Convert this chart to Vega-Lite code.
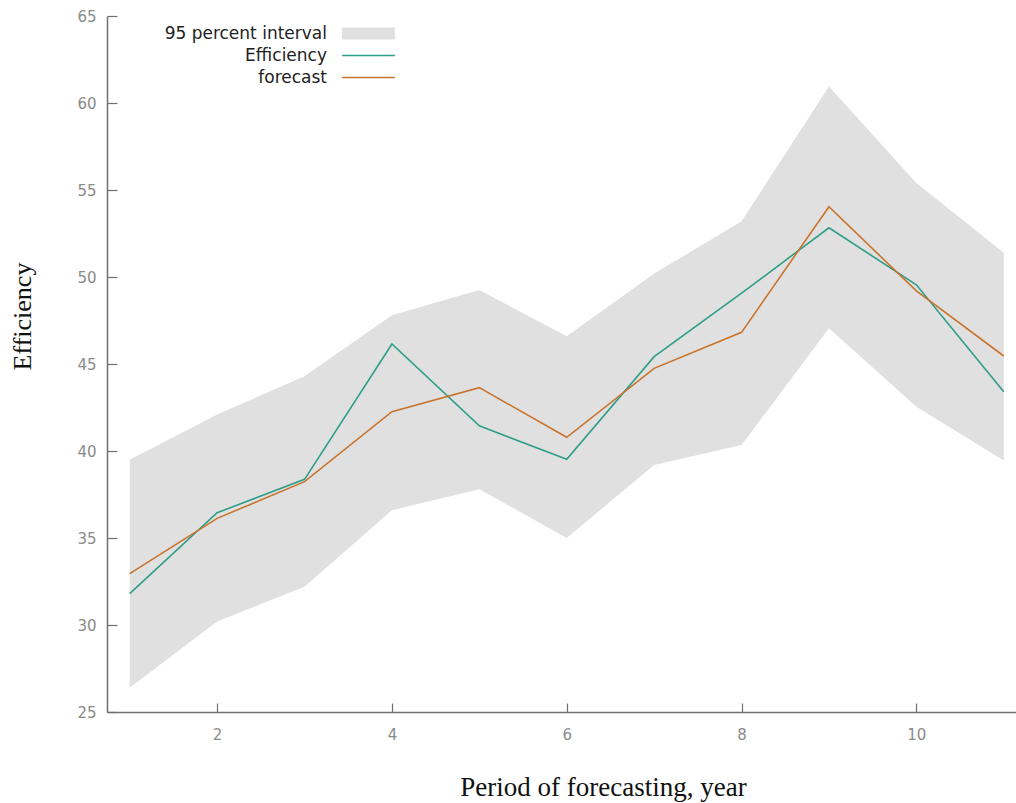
{
  "$schema": "https://vega.github.io/schema/vega-lite/v6.json",
  "width": 909,
  "height": 696,
  "autosize": {"type": "none"},
  "padding": {"left": 107, "top": 16, "right": 0, "bottom": 91},
  "background": "white",
  "config": {"view": {"stroke": null}},
  "datasets": {
    "band": [
      {"year": 1, "lower": 26.4, "upper": 39.5},
      {"year": 2, "lower": 30.2, "upper": 42.1},
      {"year": 3, "lower": 32.2, "upper": 44.3},
      {"year": 4, "lower": 36.6, "upper": 47.8},
      {"year": 5, "lower": 37.8, "upper": 49.25},
      {"year": 6, "lower": 35.0, "upper": 46.6},
      {"year": 7, "lower": 39.2, "upper": 50.2},
      {"year": 8, "lower": 40.35, "upper": 53.2},
      {"year": 9, "lower": 47.05, "upper": 60.95},
      {"year": 10, "lower": 42.55, "upper": 55.4},
      {"year": 11, "lower": 39.45, "upper": 51.4}
    ],
    "lines": [
      {"year": 1, "series": "Efficiency", "value": 31.8},
      {"year": 2, "series": "Efficiency", "value": 36.45},
      {"year": 3, "series": "Efficiency", "value": 38.37},
      {"year": 4, "series": "Efficiency", "value": 46.15},
      {"year": 5, "series": "Efficiency", "value": 41.45},
      {"year": 6, "series": "Efficiency", "value": 39.52},
      {"year": 7, "series": "Efficiency", "value": 45.42},
      {"year": 8, "series": "Efficiency", "value": 49.07},
      {"year": 9, "series": "Efficiency", "value": 52.83},
      {"year": 10, "series": "Efficiency", "value": 49.55},
      {"year": 11, "series": "Efficiency", "value": 43.4},
      {"year": 1, "series": "forecast", "value": 32.95},
      {"year": 2, "series": "forecast", "value": 36.13},
      {"year": 3, "series": "forecast", "value": 38.24},
      {"year": 4, "series": "forecast", "value": 42.26},
      {"year": 5, "series": "forecast", "value": 43.64},
      {"year": 6, "series": "forecast", "value": 40.79},
      {"year": 7, "series": "forecast", "value": 44.75},
      {"year": 8, "series": "forecast", "value": 46.82},
      {"year": 9, "series": "forecast", "value": 54.04},
      {"year": 10, "series": "forecast", "value": 49.2},
      {"year": 11, "series": "forecast", "value": 45.46}
    ]
  },
  "encoding": {
    "x": {
      "field": "year", "type": "quantitative",
      "scale": {"domain": [0.74, 11.14], "nice": false, "zero": false},
      "axis": {
        "values": [2, 4, 6, 8, 10], "grid": false,
        "title": "Period of forecasting, year",
        "titleFont": "Liberation Serif", "titleFontSize": 27, "titleFontWeight": "normal", "titleColor": "#111",
        "titleX": 496, "titleY": 75, "titleAnchor": null, "titleAlign": "center", "titleBaseline": "middle",
        "domainColor": "#707070", "domainWidth": 1.5,
        "tickColor": "#707070", "tickWidth": 1.2, "tickSize": -9,
        "labelFont": "DejaVu Sans", "labelFontSize": 15, "labelColor": "#8a8a8a", "labelPadding": 24
      }
    }
  },
  "layer": [
    {
      "data": {"name": "band"},
      "mark": {"type": "area", "opacity": 1},
      "encoding": {
        "y": {
          "field": "lower", "type": "quantitative",
          "scale": {"domain": [25, 65], "nice": false, "zero": false},
          "axis": {
            "values": [25, 30, 35, 40, 45, 50, 55, 60, 65], "grid": false,
            "title": "Efficiency",
            "titleFont": "Liberation Serif", "titleFontSize": 26, "titleFontWeight": "normal", "titleColor": "#111",
            "titleX": -85, "titleY": 300, "titleAngle": -90, "titleAlign": "center", "titleBaseline": "middle",
            "domainColor": "#707070", "domainWidth": 1.5,
            "tickColor": "#707070", "tickWidth": 1.2, "tickSize": -10,
            "labelFont": "DejaVu Sans", "labelFontSize": 15, "labelColor": "#8a8a8a", "labelPadding": 21
          }
        },
        "y2": {"field": "upper"},
        "color": {"datum": "95 percent interval"}
      }
    },
    {
      "data": {"name": "lines"},
      "mark": {"type": "line", "strokeWidth": 1.6},
      "encoding": {
        "y": {"field": "value", "type": "quantitative"},
        "color": {
          "field": "series", "type": "nominal",
          "scale": {
            "domain": ["95 percent interval", "Efficiency", "forecast"],
            "range": ["#e0e0e0", "#2e9e86", "#c8742c"]
          },
          "legend": {
            "title": null, "orient": "none", "legendX": 253, "legendY": 9,
            "padding": 0, "rowPadding": 4,
            "symbolSize": 144, "symbolStrokeWidth": 0,
            "labelAlign": "right", "labelOffset": -50,
            "labelFont": "DejaVu Sans", "labelFontSize": 17, "labelColor": "#222", "labelLimit": 300,
            "encode": {
              "symbols": {
                "update": {
                  "shape": {"signal": "datum.value === '95 percent interval' ? 'M-4.4,-1H4.4V1H-4.4Z' : 'M-4.4,-0.13H4.4V0.13H-4.4Z'"},
                  "fill": {"signal": "scale('color', datum.value)"},
                  "stroke": {"value": "transparent"},
                  "strokeWidth": {"value": 0},
                  "opacity": {"value": 1}
                }
              }
            }
          }
        }
      }
    }
  ]
}
